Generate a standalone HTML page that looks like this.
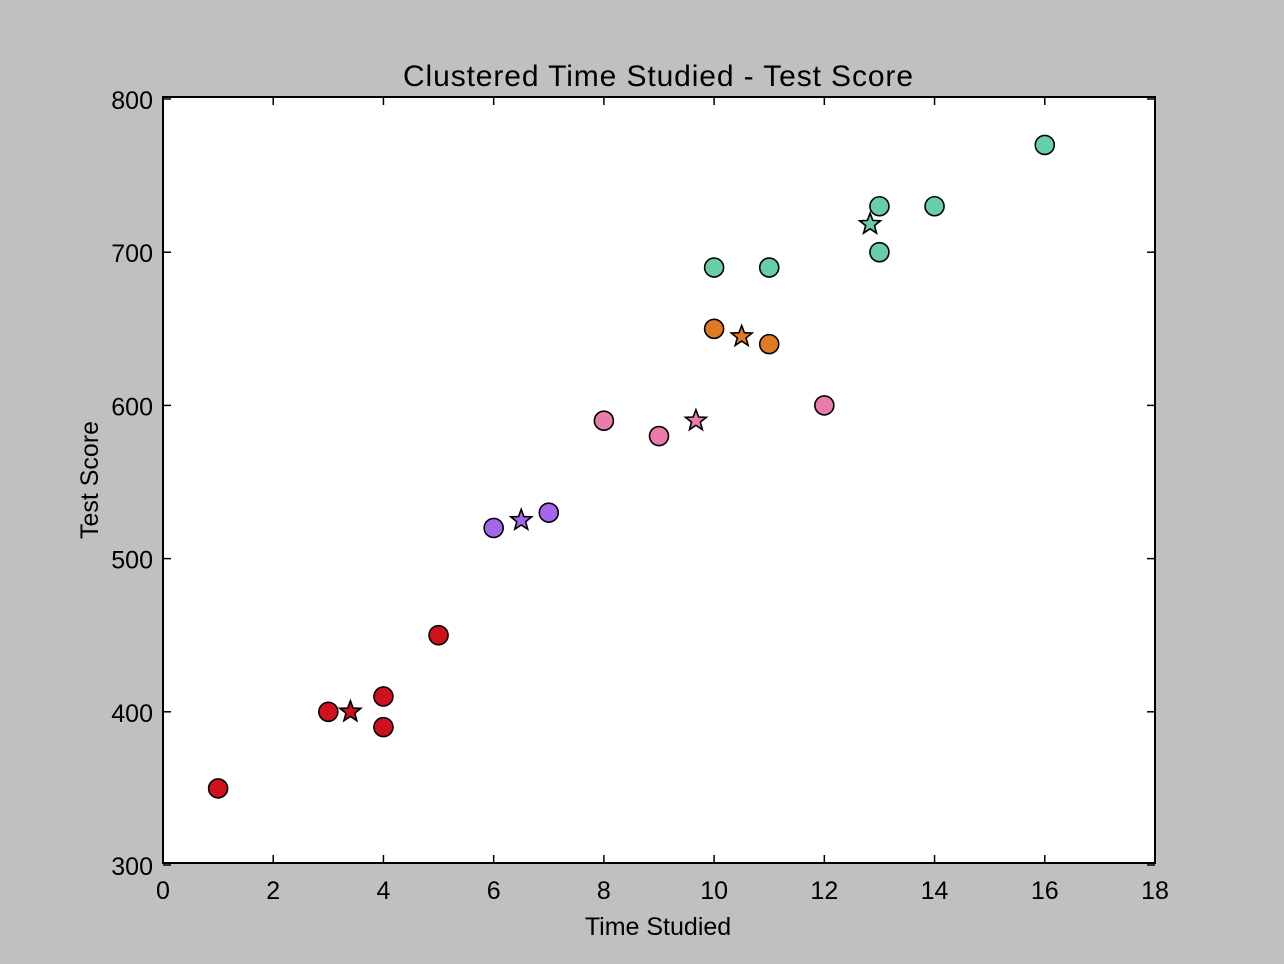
<!DOCTYPE html>
<html><head><meta charset="utf-8"><style>
html,body{margin:0;padding:0;background:#c0c0c0;}
svg{display:block;font-family:"Liberation Sans",sans-serif;}
</style></head><body>
<svg id="chart" width="1284" height="964">
<rect x="0" y="0" width="1284" height="964" fill="#c0c0c0"/>
<rect x="163" y="97" width="992" height="766" fill="#fff" stroke="#000" stroke-width="2"/>
<text x="658" y="86" font-size="30" text-anchor="middle" textLength="510">Clustered Time Studied - Test Score</text>
<text x="658" y="935" font-size="25" text-anchor="middle">Time Studied</text>
<text transform="translate(98,480) rotate(-90)" font-size="25" text-anchor="middle">Test Score</text>
<g id="ticks"></g>
<g id="marks"></g>
</svg>
<script>
const xTicks=[0,2,4,6,8,10,12,14,16,18];
const yTicks=[300,400,500,600,700,800];
const clusterColors=["#d0111b","#a366ec","#ea7bab","#e07a22","#66cfa8"];
const pointX=[1,3,4,4,5, 6,7, 8,9,12, 10,11, 10,11,13,13,14,16];
const pointY=[350,400,410,390,450, 520,530, 590,580,600, 650,640, 690,690,730,700,730,770];
const pointCluster=[0,0,0,0,0, 1,1, 2,2,2, 3,3, 4,4,4,4,4,4];
const centroidX=[3.4,6.5,9.67,10.5,12.83];
const centroidY=[400,525,590,645,718.3];
const X0=163,X1=1155,Y0=865,Y1=99;
const sx=v=>X0+(v-0)/(18-0)*(X1-X0);
const sy=v=>Y0-(v-300)/(800-300)*(Y0-Y1);
const NS="http://www.w3.org/2000/svg";
const tg=document.getElementById('ticks'),mg=document.getElementById('marks');
function mk(tag,attrs,parent){const e=document.createElementNS(NS,tag);for(const k in attrs)e.setAttribute(k,attrs[k]);parent.appendChild(e);return e;}
xTicks.forEach(t=>{const x=sx(t);
 const l1=mk('line',{x1:x,x2:x,y1:863,y2:855,stroke:'#000','stroke-width':1.5},tg);
 
 
 const l2=mk('line',{x1:x,x2:x,y1:97,y2:105,stroke:'#000','stroke-width':1.5},tg);
 
 
 const tx=mk('text',{x:x,y:899,'font-size':25,'text-anchor':'middle'},tg);tx.textContent=t;
 
 
});
yTicks.forEach(t=>{const y=sy(t);
 const l1=mk('line',{x1:X0,x2:X0+8,y1:y,y2:y,stroke:'#000','stroke-width':1.5},tg);
 
 
 const l2=mk('line',{x1:X1,x2:X1-8,y1:y,y2:y,stroke:'#000','stroke-width':1.5},tg);
 
 
 const tx=mk('text',{x:153,y:y+10,'font-size':25,'text-anchor':'end'},tg);tx.textContent=t;
 
 
});
pointX.forEach((v,i)=>{
 const c=mk('circle',{cx:sx(v),cy:sy(pointY[i]),r:9.5,fill:clusterColors[pointCluster[i]],stroke:'#000','stroke-width':1.6},mg);
 
 
});
function star(cx,cy,R){let p=[];for(let k=0;k<10;k++){const r=k%2?R*0.42:R;const a=-Math.PI/2+k*Math.PI/5;p.push((cx+r*Math.cos(a)).toFixed(1)+','+(cy+r*Math.sin(a)).toFixed(1));}return p.join(' ');}
centroidX.forEach((v,i)=>{
 const s=mk('polygon',{points:star(sx(v),sy(centroidY[i]),11),fill:clusterColors[i],stroke:'#000','stroke-width':1.6},mg);
 
 
});
</script>
</body></html>
